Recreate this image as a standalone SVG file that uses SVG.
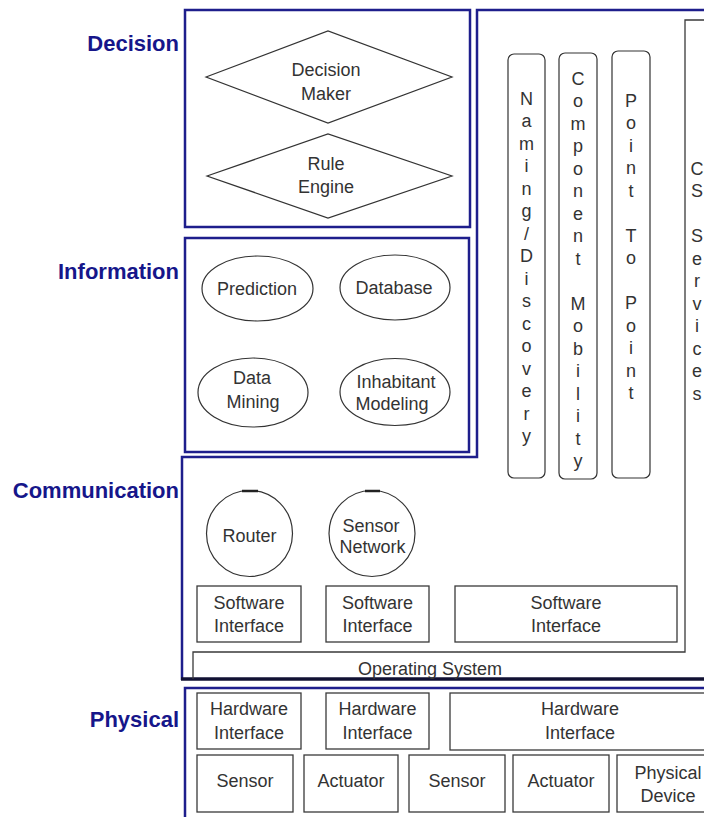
<svg xmlns="http://www.w3.org/2000/svg" width="704" height="817" viewBox="0 0 704 817">
<style>
.layer{fill:none;stroke:#1e1e8c;stroke-width:2.5}
.lbl{font-family:"Liberation Sans",Arial,sans-serif;font-weight:bold;font-size:22px;fill:#16168a;text-anchor:end}
.box{fill:#fff;stroke:#3a3a3a;stroke-width:1.3}
.shape{fill:#fff;stroke:#333;stroke-width:1.2}
.t{font-family:"Liberation Sans",Arial,sans-serif;font-size:18px;fill:#333;text-anchor:middle}
.tick{stroke:#222;stroke-width:2.5}
</style>
<rect width="704" height="817" fill="#fff"/>

<g id="layer-labels">
<text class="lbl" x="179" y="51">Decision</text>
<text class="lbl" x="179" y="279">Information</text>
<text class="lbl" x="179" y="498">Communication</text>
<text class="lbl" x="179" y="727">Physical</text>
</g>

<g id="layer-frames">
<rect class="layer" x="185" y="10" width="285" height="217"/>
<rect class="layer" x="185" y="238" width="284" height="214"/>
<path class="layer" d="M182,680 V457 H477 V10 H708"/>
<line x1="181" y1="679" x2="708" y2="679" stroke="#111133" stroke-width="3.5"/>
<path class="layer" d="M185,822 V688 H708" stroke-width="2"/>
<path fill="none" stroke="#3a3a3a" stroke-width="1.3" d="M708,20 H685 V652 H193 V679"/>
</g>

<g id="decision-maker">
<polygon class="shape" points="206,77 328,31 452,77 328,123"/>
<text class="t" x="326" y="75.5">Decision</text>
<text class="t" x="326" y="99.5">Maker</text>
</g>
<g id="rule-engine">
<polygon class="shape" points="207,176 328,134 452,176 328,218"/>
<text class="t" x="326" y="169.5">Rule</text>
<text class="t" x="326" y="193">Engine</text>
</g>

<g id="prediction">
<ellipse class="shape" cx="257.5" cy="288.5" rx="55.5" ry="32.5"/>
<text class="t" x="257" y="294.5">Prediction</text>
</g>
<g id="database">
<ellipse class="shape" cx="395" cy="287.5" rx="55" ry="32.5"/>
<text class="t" x="394" y="293.5">Database</text>
</g>
<g id="data-mining">
<ellipse class="shape" cx="253" cy="392.5" rx="55" ry="34.5"/>
<text class="t" x="252" y="383.5">Data</text>
<text class="t" x="253" y="408">Mining</text>
</g>
<g id="inhabitant-modeling">
<ellipse class="shape" cx="395" cy="392" rx="55" ry="33.5"/>
<text class="t" x="396" y="388">Inhabitant</text>
<text class="t" x="392" y="410">Modeling</text>
</g>

<g id="naming-discovery">
<rect class="shape" x="508" y="54" width="37" height="424" rx="6"/>
<text class="t" y="104.5"><tspan x="526.5">N</tspan><tspan x="526.5" dy="22.5">a</tspan><tspan x="526.5" dy="22.5">m</tspan><tspan x="526.5" dy="22.5">i</tspan><tspan x="526.5" dy="22.5">n</tspan><tspan x="526.5" dy="22.5">g</tspan><tspan x="526.5" dy="22.5">/</tspan><tspan x="526.5" dy="22.5">D</tspan><tspan x="526.5" dy="22.5">i</tspan><tspan x="526.5" dy="22.5">s</tspan><tspan x="526.5" dy="22.5">c</tspan><tspan x="526.5" dy="22.5">o</tspan><tspan x="526.5" dy="22.5">v</tspan><tspan x="526.5" dy="22.5">e</tspan><tspan x="526.5" dy="22.5">r</tspan><tspan x="526.5" dy="22.5">y</tspan></text>
</g>
<g id="component-mobility">
<rect class="shape" x="559" y="53" width="38" height="426" rx="6"/>
<text class="t" y="84.5"><tspan x="578">C</tspan><tspan x="578" dy="22.5">o</tspan><tspan x="578" dy="22.5">m</tspan><tspan x="578" dy="22.5">p</tspan><tspan x="578" dy="22.5">o</tspan><tspan x="578" dy="22.5">n</tspan><tspan x="578" dy="22.5">e</tspan><tspan x="578" dy="22.5">n</tspan><tspan x="578" dy="22.5">t</tspan><tspan x="578" dy="45">M</tspan><tspan x="578" dy="22.5">o</tspan><tspan x="578" dy="22.5">b</tspan><tspan x="578" dy="22.5">i</tspan><tspan x="578" dy="22.5">l</tspan><tspan x="578" dy="22.5">i</tspan><tspan x="578" dy="22.5">t</tspan><tspan x="578" dy="22.5">y</tspan></text>
</g>
<g id="point-to-point">
<rect class="shape" x="612" y="51" width="38" height="427" rx="6"/>
<text class="t" y="106.5"><tspan x="631">P</tspan><tspan x="631" dy="22.5">o</tspan><tspan x="631" dy="22.5">i</tspan><tspan x="631" dy="22.5">n</tspan><tspan x="631" dy="22.5">t</tspan><tspan x="631" dy="45">T</tspan><tspan x="631" dy="22.5">o</tspan><tspan x="631" dy="45">P</tspan><tspan x="631" dy="22.5">o</tspan><tspan x="631" dy="22.5">i</tspan><tspan x="631" dy="22.5">n</tspan><tspan x="631" dy="22.5">t</tspan></text>
</g>
<g id="services">
<text class="t" y="174.5"><tspan x="697">C</tspan><tspan x="697" dy="22.5">S</tspan><tspan x="697" dy="45">S</tspan><tspan x="697" dy="22.5">e</tspan><tspan x="697" dy="22.5">r</tspan><tspan x="697" dy="22.5">v</tspan><tspan x="697" dy="22.5">i</tspan><tspan x="697" dy="22.5">c</tspan><tspan x="697" dy="22.5">e</tspan><tspan x="697" dy="22.5">s</tspan></text>
</g>

<g id="router">
<circle class="shape" cx="249.5" cy="533.5" r="43"/>
<line class="tick" x1="242" y1="491" x2="258" y2="491"/>
<text class="t" x="249.5" y="541.5">Router</text>
</g>
<g id="sensor-network">
<circle class="shape" cx="372" cy="533.5" r="43"/>
<line class="tick" x1="365" y1="491" x2="380" y2="491"/>
<text class="t" x="371" y="531.5">Sensor</text>
<text class="t" x="372.5" y="552.5">Network</text>
</g>

<g id="software-interface-1">
<rect class="box" x="197" y="586" width="104" height="56"/>
<text class="t" x="249" y="608.5">Software</text>
<text class="t" x="249" y="631.5">Interface</text>
</g>
<g id="software-interface-2">
<rect class="box" x="326" y="586" width="103" height="56"/>
<text class="t" x="377.5" y="608.5">Software</text>
<text class="t" x="377.5" y="631.5">Interface</text>
</g>
<g id="software-interface-3">
<rect class="box" x="455" y="586" width="222" height="56"/>
<text class="t" x="566" y="608.5">Software</text>
<text class="t" x="566" y="631.5">Interface</text>
</g>
<g id="operating-system">
<text class="t" x="430" y="675">Operating System</text>
</g>

<g id="hardware-interface-1">
<rect class="box" x="197" y="693" width="104" height="56"/>
<text class="t" x="249" y="714.5">Hardware</text>
<text class="t" x="249" y="738.5">Interface</text>
</g>
<g id="hardware-interface-2">
<rect class="box" x="326" y="693" width="103" height="56"/>
<text class="t" x="377.5" y="714.5">Hardware</text>
<text class="t" x="377.5" y="738.5">Interface</text>
</g>
<g id="hardware-interface-3">
<rect class="box" x="450" y="693" width="262" height="57"/>
<text class="t" x="580" y="714.5">Hardware</text>
<text class="t" x="580" y="738.5">Interface</text>
</g>

<g id="sensor-1">
<rect class="box" x="197" y="755" width="96" height="57"/>
<text class="t" x="245" y="786.5">Sensor</text>
</g>
<g id="actuator-1">
<rect class="box" x="304" y="755" width="94" height="57"/>
<text class="t" x="351" y="786.5">Actuator</text>
</g>
<g id="sensor-2">
<rect class="box" x="409" y="755" width="96" height="57"/>
<text class="t" x="457" y="786.5">Sensor</text>
</g>
<g id="actuator-2">
<rect class="box" x="513" y="755" width="96" height="57"/>
<text class="t" x="561" y="786.5">Actuator</text>
</g>
<g id="physical-device">
<rect class="box" x="617" y="755" width="100" height="57"/>
<text class="t" x="668" y="778.5">Physical</text>
<text class="t" x="668" y="801.5">Device</text>
</g>

<g id="connectors"/>
</svg>
